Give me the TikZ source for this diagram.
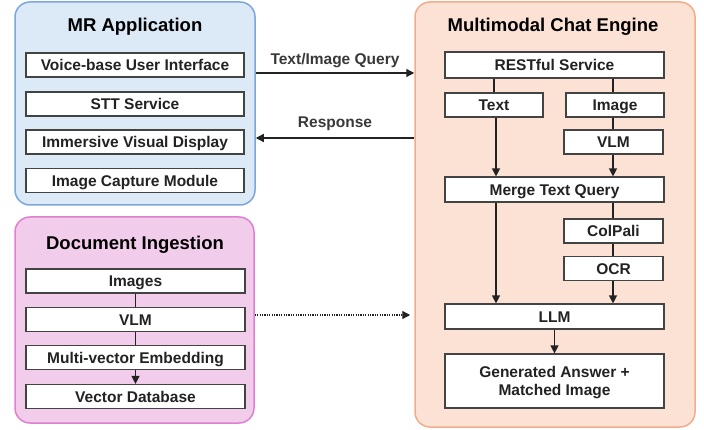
\documentclass[tikz,border=0pt]{standalone}
\usepackage{fontspec}
\setmainfont{Liberation Sans}
\usetikzlibrary{arrows.meta}
\definecolor{ink}{HTML}{222222}
\definecolor{mrfill}{HTML}{DCE9F7}
\definecolor{mrline}{HTML}{7AA7DE}
\definecolor{docfill}{HTML}{F2CDEB}
\definecolor{docline}{HTML}{DF7FD2}
\definecolor{chatfill}{HTML}{FBE2D4}
\definecolor{chatline}{HTML}{F2AC8D}
\tikzset{
  panel/.style={draw=#1line, fill=#1fill, line width=1.5pt, rounded corners=15pt, inner sep=0pt},
  item/.style={draw=ink!85, fill=white, line width=1.2pt, inner sep=0pt,
    font=\fontsize{15.5}{18}\selectfont\bfseries, text=ink, align=center,
    text height=11.2pt, text depth=0pt},
  ptitle/.style={font=\fontsize{18.5}{22}\selectfont\bfseries, text=black},
  elabel/.style={font=\fontsize{15.5}{18}\selectfont\bfseries, text=ink!90},
  link/.style={draw=ink, line width=1.3pt},
  flow/.style={link, -{Triangle[length=8pt,width=8pt]}},
}
\begin{document}
\begin{tikzpicture}[x=1pt,y=-1pt]
\useasboundingbox (0,0) rectangle (704,430);
% containers
\node[panel=mr, minimum width=240pt, minimum height=203pt] (mr) at (135,103.5) {};
\node[panel=doc, minimum width=239pt, minimum height=206pt] (doc) at (134.5,320) {};
\node[panel=chat, minimum width=280pt, minimum height=425pt] (chat) at (555,214.5) {};
\node[ptitle] (mrt) at (135,27) {MR Application};
\node[ptitle] (doct) at (135,245) {Document Ingestion};
\node[ptitle] (chatt) at (553,27) {Multimodal Chat Engine};
% MR application modules
\node[item, minimum width=218pt, minimum height=24pt] (voice) at (135,65) {Voice-base User Interface};
\node[item, minimum width=218pt, minimum height=24pt] (stt) at (135,104) {STT Service};
\node[item, minimum width=218pt, minimum height=24pt] (disp) at (135,142) {Immersive Visual Display};
\node[item, minimum width=218pt, minimum height=24pt] (cap) at (135,180.5) {Image Capture Module};
% document ingestion pipeline
\node[item, minimum width=219pt, minimum height=24pt] (imgs) at (135.5,281) {Images};
\node[item, minimum width=219pt, minimum height=24pt] (dvlm) at (135.5,319.5) {VLM};
\node[item, minimum width=219pt, minimum height=24pt] (emb) at (135.5,357.5) {Multi-vector Embedding};
\node[item, minimum width=219pt, minimum height=24pt] (vdb) at (135.5,396.5) {Vector Database};
\draw[link] (imgs) -- (dvlm);
\draw[link] (dvlm) -- (emb);
\draw[flow] (emb) -- (vdb);
% chat engine pipeline
\node[item, minimum width=219pt, minimum height=26pt] (rest) at (554.5,65) {RESTful Service};
\node[item, minimum width=98pt, minimum height=24pt] (text) at (494,105) {Text};
\node[item, minimum width=98pt, minimum height=24pt] (image) at (615,105) {Image};
\node[item, minimum width=99pt, minimum height=24pt] (cvlm) at (613.5,142) {VLM};
\node[item, minimum width=219pt, minimum height=25pt] (merge) at (554.5,189.5) {Merge Text Query};
\node[item, minimum width=99pt, minimum height=24pt] (colpali) at (613.5,231) {ColPali};
\node[item, minimum width=99pt, minimum height=24pt] (ocr) at (613.5,268.5) {OCR};
\node[item, minimum width=219pt, minimum height=25pt] (llm) at (554.5,316.5) {LLM};
\node[item, minimum width=219pt, minimum height=54pt, text height=] (answer) at (554.5,381) {Generated Answer +\\Matched Image};
\draw[link] (rest.south -| text) -- (text.north);
\draw[link] (rest.south -| 613,0) -- (image.north -| 613,0);
\draw[link] (image.south -| 613,0) -- (cvlm.north -| 613,0);
\draw[flow] (text.south -| 496,0) -- (merge.north -| 496,0);
\draw[flow] (cvlm.south -| 613,0) -- (merge.north -| 613,0);
\draw[flow] (merge.south -| 496,0) -- (llm.north -| 496,0);
\draw[link] (merge.south -| 613,0) -- (colpali.north -| 613,0);
\draw[link] (colpali.south -| 613,0) -- (ocr.north -| 613,0);
\draw[flow] (ocr.south -| 613,0) -- (llm.north -| 613,0);
\draw[flow] (llm) -- (answer);
% exchanges between the blocks
\draw[flow] (mr.east |- 0,73) -- (chat.west |- 0,73)
  node[elabel, midway, above=1pt] (qlab) {Text/Image Query};
\draw[flow] (chat.west |- 0,138) -- (mr.east |- 0,138)
  node[elabel, midway, above=3pt] (rlab) {Response};
\draw[link, line width=1.4pt, dash pattern=on 1.2pt off 1.2pt, -{Triangle[length=8pt,width=8pt]}]
  (doc.east |- 0,315) -- ([xshift=-4pt]chat.west |- 0,315);
\end{tikzpicture}
\end{document}
